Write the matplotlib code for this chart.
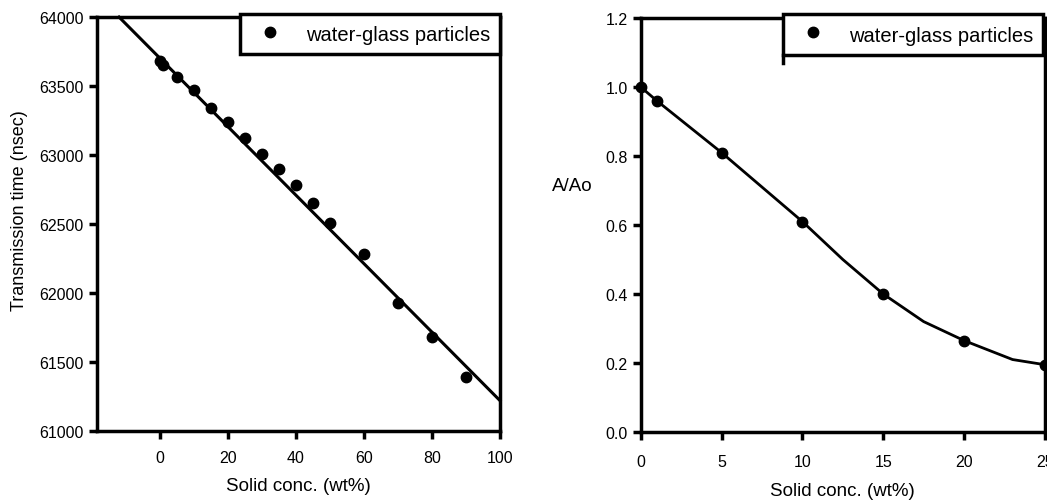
import matplotlib
matplotlib.use("Agg")
import matplotlib.pyplot as plt
from matplotlib.lines import Line2D

plt.rcParams['font.family'] = ['Liberation Sans', 'DejaVu Sans']

# Left panel data
conc_left = [0, 1, 5, 10, 15, 20, 25, 30, 35, 40, 45, 50, 60, 70, 80, 90]
trans_time = [63680, 63650, 63565, 63475, 63340, 63240, 63120, 63010, 62900,
              62780, 62650, 62510, 62280, 61930, 61680, 61390]
fit_x = [-12, 100]
fit_y = [64000, 61220]

# Right panel data
conc_right = [0, 1, 5, 10, 15, 20, 25]
ratio = [1.0, 0.96, 0.81, 0.61, 0.40, 0.265, 0.195]
curve_x = [0, 1, 5, 10, 12.5, 15, 17.5, 20, 23, 25]
curve_y = [1.0, 0.96, 0.81, 0.61, 0.50, 0.40, 0.32, 0.265, 0.21, 0.195]

legend_label = 'water-glass particles'
xlabel = 'Solid conc. (wt%)'

fig = plt.figure(figsize=(10.47, 5.02), dpi=100)
ax1 = fig.add_axes([0.0926, 0.1394, 0.385, 0.8246])
ax2 = fig.add_axes([0.612, 0.1375, 0.386, 0.8245])

lw = 2.5
for ax in (ax1, ax2):
    for s in ax.spines.values():
        s.set_linewidth(lw)
    ax.tick_params(direction='out', length=6, width=2.5, labelsize=11.5,
                   top=False, right=False)

ms = 7.5
leg_kw = dict(loc='upper right', fontsize=14.5, frameon=True, fancybox=False,
              edgecolor='black', borderaxespad=0.0, handletextpad=0.75,
              handlelength=2.0, handleheight=1.1, borderpad=0.5, framealpha=1)

# Left
ax1.plot(conc_left, trans_time, 'o', color='black', markersize=ms, label=legend_label)
ax1.plot(fit_x, fit_y, '-', color='black', linewidth=2.2, clip_on=False)
ax1.set_xlim(-18.5, 100)
ax1.set_ylim(61000, 64000)
ax1.set_xticks([0, 20, 40, 60, 80, 100])
ax1.set_yticks([61000, 61500, 62000, 62500, 63000, 63500, 64000])
ax1.tick_params(axis='x', pad=8)
ax1.set_xlabel(xlabel, fontsize=13.5)
ax1.xaxis.set_label_coords(0.5, -0.112)
ax1.set_ylabel('Transmission time (nsec)', fontsize=13)
ax1.yaxis.set_label_coords(-0.171, 0.536)
leg1 = ax1.legend(bbox_to_anchor=(1.0, 1.008), **leg_kw)
leg1.get_frame().set_linewidth(2.5)

# Right
ax2.plot(conc_right, ratio, 'o', color='black', markersize=ms, label=legend_label, clip_on=False)
ax2.plot(curve_x, curve_y, '-', color='black', linewidth=2.0)
ax2.set_xlim(0, 25)
ax2.set_ylim(0, 1.2)
ax2.set_xticks([0, 5, 10, 15, 20, 25])
ax2.set_yticks([0.0, 0.2, 0.4, 0.6, 0.8, 1.0, 1.2])
ax2.set_yticklabels(['0.0', '0.2', '0.4', '0.6', '0.8', '1.0', '1.2'])
ax2.tick_params(axis='x', pad=10)
ax2.set_xlabel(xlabel, fontsize=13.5)
ax2.xaxis.set_label_coords(0.5, -0.122)
ax2.set_ylabel('A/Ao', fontsize=13.5, rotation=0)
ax2.yaxis.set_label_coords(-0.17, 0.574)
leg2 = ax2.legend(bbox_to_anchor=(0.995, 1.01), **leg_kw)
leg2.get_frame().set_linewidth(2.5)

# small extension of the right legend's left frame edge below the box
fig.canvas.draw()
bb = leg2.get_frame().get_window_extent()
x0 = bb.x0 / fig.bbox.width
y0 = bb.y0 / fig.bbox.height
fig.add_artist(Line2D([x0, x0], [y0, y0 - 8 / fig.bbox.height],
                      transform=fig.transFigure, color='black', linewidth=2.5))

fig.savefig('out.png', dpi=100)
